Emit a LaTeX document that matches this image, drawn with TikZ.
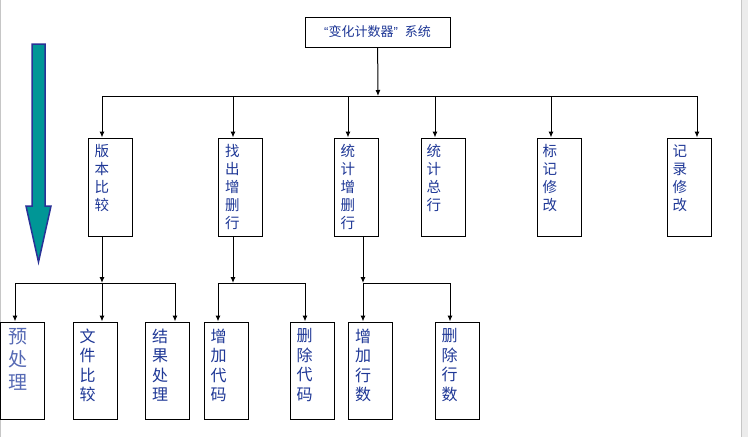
\documentclass[tikz,border=0pt]{standalone}
\usepackage{fontspec}
\newfontfamily\cjk{Noto Sans CJK SC}
\newfontfamily\lat{Liberation Sans}
\usetikzlibrary{arrows.meta}
\definecolor{txtblue}{RGB}{30,55,150}
\definecolor{paleblue}{RGB}{85,105,180}
\definecolor{arrowteal}{RGB}{0,150,150}
\definecolor{arrowedge}{RGB}{40,50,150}
\tikzset{
        conn/.style={line width=1pt, -{Latex[length=6pt,width=5pt]}},
        bus/.style={line width=1pt},
        topbox/.style={draw, line width=1pt, minimum width=145pt, minimum height=30pt, inner sep=0pt,
                font=\cjk\fontsize{13}{15}\selectfont, text=txtblue},
        box/.style={draw, line width=1pt, minimum width=44pt, minimum height=98pt, inner sep=0pt},
        subbox/.style={box, minimum height=97pt},
        vtext/.style={anchor=north west, inner sep=0pt, align=left, text=txtblue,
                font=\cjk\fontsize{14.5}{18}\selectfont},
        subtext/.style={vtext, font=\cjk\fontsize{16}{19.5}\selectfont}
}
\begin{document}
\begin{tikzpicture}[x=1pt,y=-1pt]
        \useasboundingbox (0,0) rectangle (748,437);
        \fill[white] (0,0) rectangle (748,437);
        \fill[gray!15] (741,0) rectangle (748,437);
        \draw[gray!45, line width=1pt] (741.5,0) -- (741.5,437);
        \draw[gray!45, line width=1pt] (0.5,0) -- (0.5,437);

        % big arrow on the left
        \draw[fill=arrowteal, draw=arrowedge, line width=1.5pt, line join=miter]
                (32,44) -- (45,44) -- (45,206) -- (51,206) -- (38.5,262)
                -- (26,206) -- (32,206) -- cycle;

        % top
        \node[topbox] (title) at (377.5,32) {{\lat “}变化计数器{\lat ”}\hspace{7pt}系统};
        \coordinate (busA) at (378,96);

        % first level
        \node[box] (bbbj) at (110,187) {};
        \node[box] (zczsh) at (240.5,187) {};
        \node[box] (tjzsh) at (356,187) {};
        \node[box] (tjzh) at (443,187) {};
        \node[box] (bjxg) at (559,187) {};
        \node[box] (jlxg) at (689,187) {};
        \node[vtext] at ([shift={(7,7)}]bbbj.north west) {版\\本\\比\\较};
        \node[vtext] at ([shift={(7,7)}]zczsh.north west) {找\\出\\增\\删\\行};
        \node[vtext] at ([shift={(7,7)}]tjzsh.north west) {统\\计\\增\\删\\行};
        \node[vtext] at ([shift={(6,7)}]tjzh.north west) {统\\计\\总\\行};
        \node[vtext] at ([shift={(6,7)}]bjxg.north west) {标\\记\\修\\改};
        \node[vtext] at ([shift={(6,7)}]jlxg.north west) {记\\录\\修\\改};

        \draw[conn] (title) -- (busA);
        \draw[bus] ([xshift=-8]bbbj.north |- busA) -- ([xshift=8]jlxg.north |- busA);
        \draw[conn] ([xshift=-8]bbbj.north |- busA) -- ([xshift=-8]bbbj.north);
        \draw[conn] ([xshift=-7.5]zczsh.north |- busA) -- ([xshift=-7.5]zczsh.north);
        \draw[conn] ([xshift=-8]tjzsh.north |- busA) -- ([xshift=-8]tjzsh.north);
        \draw[conn] ([xshift=-8]tjzh.north |- busA) -- ([xshift=-8]tjzh.north);
        \draw[conn] ([xshift=-8]bjxg.north |- busA) -- ([xshift=-8]bjxg.north);
        \draw[conn] ([xshift=8]jlxg.north |- busA) -- ([xshift=8]jlxg.north);

        % second level
        \node[subbox] (ycl) at (22.5,370.5) {};
        \node[subbox] (wjbj) at (95,370.5) {};
        \node[subbox] (jgcl) at (167.5,370.5) {};
        \node[subbox] (zjdm) at (226,370.5) {};
        \node[subbox] (scdm) at (312,370.5) {};
        \node[subbox] (zjhs) at (370.5,370.5) {};
        \node[subbox] (schs) at (457,370.5) {};
        \node[subtext, text=paleblue, font=\cjk\fontsize{19}{23}\selectfont]
                at ([shift={(8,7)}]ycl.north west) {预\\处\\理};
        \node[subtext] at ([shift={(7,7)}]wjbj.north west) {文\\件\\比\\较};
        \node[subtext] at ([shift={(7,7)}]jgcl.north west) {结\\果\\处\\理};
        \node[subtext] at ([shift={(7,7)}]zjdm.north west) {增\\加\\代\\码};
        \node[subtext] at ([shift={(7,7)}]scdm.north west) {删\\除\\代\\码};
        \node[subtext] at ([shift={(7,7)}]zjhs.north west) {增\\加\\行\\数};
        \node[subtext] at ([shift={(7,7)}]schs.north west) {删\\除\\行\\数};

        \coordinate (busB) at (102,283);
        \coordinate (busC) at (233,283);
        \coordinate (busD) at (363,283);
        \draw[conn] ([xshift=-8]bbbj.south) -- (busB);
        \draw[conn] ([xshift=-7.5]zczsh.south) -- (busC);
        \draw[conn] ([xshift=7]tjzsh.south) -- (busD);
        \draw[bus] ([xshift=-7.5]ycl.north |- busB) -- ([xshift=7.5]jgcl.north |- busB);
        \draw[bus] ([xshift=-8]zjdm.north |- busC) -- ([xshift=-7]scdm.north |- busC);
        \draw[bus] ([xshift=-7.5]zjhs.north |- busD) -- ([xshift=-7]schs.north |- busD);
        \draw[conn] ([xshift=-7.5]ycl.north |- busB) -- ([xshift=-7.5]ycl.north);
        \draw[conn] ([xshift=7]wjbj.north |- busB) -- ([xshift=7]wjbj.north);
        \draw[conn] ([xshift=7.5]jgcl.north |- busB) -- ([xshift=7.5]jgcl.north);
        \draw[conn] ([xshift=-8]zjdm.north |- busC) -- ([xshift=-8]zjdm.north);
        \draw[conn] ([xshift=-7]scdm.north |- busC) -- ([xshift=-7]scdm.north);
        \draw[conn] ([xshift=-7.5]zjhs.north |- busD) -- ([xshift=-7.5]zjhs.north);
        \draw[conn] ([xshift=-7]schs.north |- busD) -- ([xshift=-7]schs.north);
\end{tikzpicture}
\end{document}
